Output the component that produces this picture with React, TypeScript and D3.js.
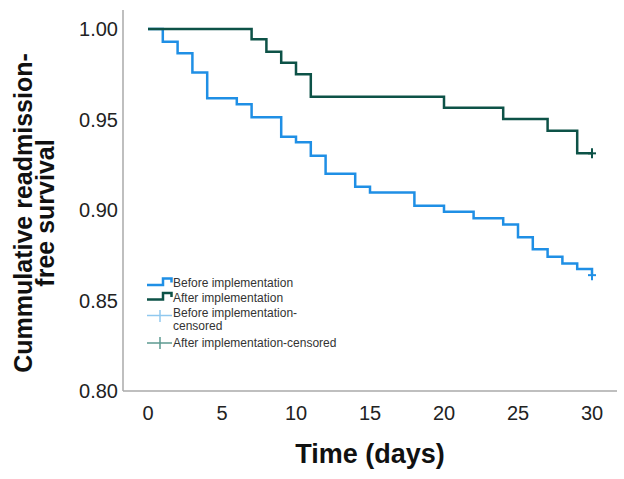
import React from 'react';
import * as d3 from 'd3';

type Pt = { t: number, s: number };

// Kaplan-Meier steps
const beforeTimes = [0, 1, 2, 3, 4, 6, 7, 9, 10, 11, 12, 14, 15, 18, 20, 22, 24, 25, 26, 27, 28, 29, 30];
const beforeSurv = [1, 0.993, 0.9866, 0.976, 0.9617, 0.9584, 0.9512, 0.9405, 0.9374, 0.930, 0.920, 0.9129, 0.9096, 0.9024, 0.899, 0.8954, 0.892, 0.8849, 0.8783, 0.8742, 0.8705, 0.8674, 0.8640];
const afterTimes = [0, 7, 8, 9, 10, 11, 20, 24, 27, 29, 30];
const afterSurv = [1, 0.9943, 0.9875, 0.9814, 0.975, 0.9626, 0.9565, 0.9503, 0.9438, 0.9313, 0.9313];

const xTickValues = [0, 5, 10, 15, 20, 25, 30];
const yTickValues = [0.80, 0.85, 0.90, 0.95, 1.00];

const blue = "#1f8fe5";
const green = "#0d5247";
const blueCens = "#90c8ef";
const greenCens = "#5d9a90";

const toPts = (ts: number[], ss: number[]): Pt[] => ts.map((t, i) => ({ t, s: ss[i] }));

const App: React.FC = () => {
  const width = 624;
  const height = 479;
  const font = "Arial, 'Liberation Sans', sans-serif";

  const xScale = d3.scaleLinear().domain([0, 30]).range([148, 592]);
  const yScale = d3.scaleLinear().domain([0.80, 1.00]).range([391, 29]);

  const line = d3.line<Pt>().x(d => xScale(d.t)).y(d => yScale(d.s)).curve(d3.curveStepAfter);

  const before = toPts(beforeTimes, beforeSurv);
  const after = toPts(afterTimes, afterSurv);
  const lastB = before[before.length - 1];
  const lastA = after[after.length - 1];

  const cross = (p: Pt, color: string) => {
    const cx = xScale(p.t), cy = yScale(p.s);
    return (
      <g stroke={color} strokeWidth={2}>
        <line x1={cx - 4} x2={cx + 4} y1={cy} y2={cy} />
        <line x1={cx} x2={cx} y1={cy - 5} y2={cy + 5} />
      </g>
    );
  };

  const legendText = { fontFamily: font, fontSize: 12, fill: "#333" };

  return (
    <svg width={width} height={height} style={{ position: "absolute", left: 0, top: 0, background: "#fff" }}>
      {/* axes */}
      <line x1={123} x2={123} y1={10} y2={391} stroke="#aaa" strokeWidth={1.5} />
      <line x1={123} x2={617} y1={391} y2={391} stroke="#aaa" strokeWidth={1.5} />

      {yTickValues.map(v => (
        <text key={v} x={118} y={yScale(v) + 7} textAnchor="end" fontFamily={font} fontSize={20} fill="#222">
          {v.toFixed(2)}
        </text>
      ))}
      {xTickValues.map(v => (
        <text key={v} x={xScale(v)} y={420} textAnchor="middle" fontFamily={font} fontSize={20} fill="#222">
          {v}
        </text>
      ))}

      <text x={370} y={463} textAnchor="middle" fontFamily={font} fontSize={27} fontWeight="bold" fill="#111">Time (days)</text>
      <g transform="translate(32, 213) rotate(-90)">
        <text x={0} y={0} textAnchor="middle" fontFamily={font} fontSize={25} fontWeight="bold" fill="#111">Cummulative readmission-</text>
        <text x={0} y={22} textAnchor="middle" fontFamily={font} fontSize={25} fontWeight="bold" fill="#111">free survival</text>
      </g>

      {/* curves */}
      <path d={line(before) || ""} fill="none" stroke={blue} strokeWidth={2.5} />
      <path d={line(after) || ""} fill="none" stroke={green} strokeWidth={2.5} />
      {cross(lastB, blue)}
      {cross(lastA, green)}

      {/* legend */}
      <path d="M147,285 H163 V278.5 H171.5 V282.5" fill="none" stroke={blue} strokeWidth={2.5} />
      <text x={173} y={287} {...legendText}>Before implementation</text>
      <path d="M147,299.5 H163 V293 H171.5 V297" fill="none" stroke={green} strokeWidth={2.5} />
      <text x={173} y={301.5} {...legendText}>After implementation</text>
      <g stroke={blueCens} strokeWidth={1.5}>
        <line x1={147} x2={172} y1={315.5} y2={315.5} />
        <line x1={160} x2={160} y1={310} y2={322} />
      </g>
      <text x={173} y={317} {...legendText}>Before implementation-</text>
      <text x={173} y={329.5} {...legendText}>censored</text>
      <g stroke={greenCens} strokeWidth={1.5}>
        <line x1={147} x2={172} y1={343} y2={343} />
        <line x1={160} x2={160} y1={337} y2={349} />
      </g>
      <text x={173} y={347} {...legendText}>After implementation-censored</text>
    </svg>
  );
};

export default App;
